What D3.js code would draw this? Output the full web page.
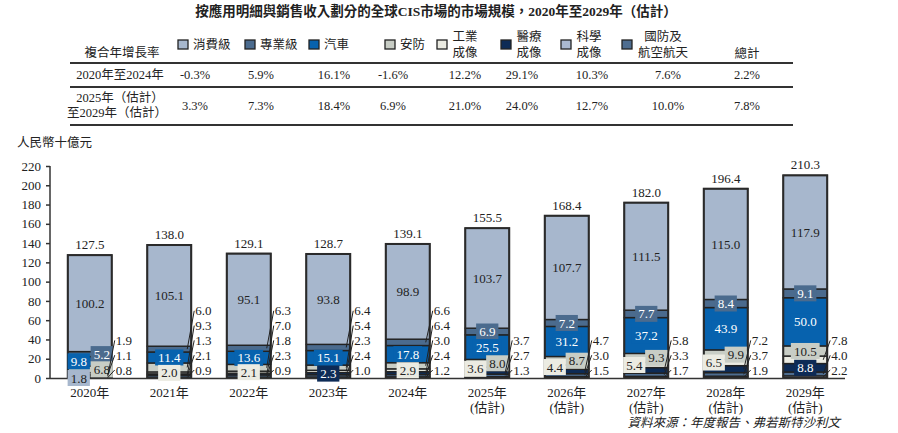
<!DOCTYPE html>
<html>
<head>
<meta charset="utf-8">
<script src="https://cdn.jsdelivr.net/npm/d3@7/dist/d3.min.js"></script>
<style>
body { margin: 0; background: #fff; }
text { font-family: "Liberation Serif", "Noto Sans CJK TC", serif; fill: #222; }
</style>
</head>
<body>
<script>
// ---- data ----
var years = ["2020年", "2021年", "2022年", "2023年", "2024年", "2025年", "2026年", "2027年", "2028年", "2029年"];
var estimated = [false, false, false, false, false, true, true, true, true, true];

var consumer = [100.2, 105.1, 95.1, 93.8, 98.9, 103.7, 107.7, 111.5, 115.0, 117.9];
var professional = [5.2, 6.0, 6.3, 6.4, 6.6, 6.9, 7.2, 7.7, 8.4, 9.1];
var automotive = [9.8, 11.4, 13.6, 15.1, 17.8, 25.5, 31.2, 37.2, 43.9, 50.0];
var security = [6.8, 9.3, 7.0, 5.4, 6.4, 8.0, 8.7, 9.3, 9.9, 10.5];
var industrial = [1.8, 2.0, 2.1, 2.3, 2.9, 3.6, 4.4, 5.4, 6.5, 7.8];
var medical = [1.1, 1.3, 1.8, 2.3, 3.0, 3.7, 4.7, 5.8, 7.2, 8.8];
var scientific = [0.8, 0.9, 0.9, 1.0, 1.2, 1.3, 1.5, 1.7, 1.9, 2.2];
var defence = [1.9, 2.1, 2.3, 2.4, 2.4, 2.7, 3.0, 3.3, 3.7, 4.0];
var totals = [127.5, 138.0, 129.1, 128.7, 139.1, 155.5, 168.4, 182.0, 196.4, 210.3];

// stacked bottom -> top
var stackKeys = ["科學成像", "國防及航空航天", "醫療成像", "工業成像", "安防", "汽車", "專業級", "消費級"];
var seriesValues = {
  "科學成像": scientific, "國防及航空航天": defence, "醫療成像": medical, "工業成像": industrial,
  "安防": security, "汽車": automotive, "專業級": professional, "消費級": consumer
};
var legendKeys = ["消費級", "專業級", "汽車", "安防", "工業成像", "醫療成像", "科學成像", "國防及航空航天"];
var cagr2024 = ["-0.3%", "5.9%", "16.1%", "-1.6%", "12.2%", "29.1%", "10.3%", "7.6%", "2.2%"];
var cagr2029 = ["3.3%", "7.3%", "18.4%", "6.9%", "21.0%", "24.0%", "12.7%", "10.0%", "7.8%"];

// ---- styles / layout ----
var colors = {
  "消費級": "#a7b7cd", "專業級": "#4b6b8e", "汽車": "#0762ae", "安防": "#c8cdc5",
  "工業成像": "#ebebe2", "醫療成像": "#0d2b56", "科學成像": "#aab9d0", "國防及航空航天": "#4e6d90"
};
var whiteText = { "專業級": 1, "汽車": 1, "醫療成像": 1, "國防及航空航天": 1 };
var legendLabel = {
  "工業成像": ["工業", "成像"], "醫療成像": ["醫療", "成像"], "科學成像": ["科學", "成像"],
  "國防及航空航天": ["國防及", "航空航天"]
};

// inside labels per year: [key, dx, fillOverride, atBase]
var inside = [
  [["消費級", 0], ["專業級", 12], ["汽車", -11], ["安防", 12], ["工業成像", -11, "#a7b7cd", true]],
  [["消費級", 0], ["汽車", 0], ["工業成像", 0]],
  [["消費級", 0], ["汽車", 0], ["工業成像", 0]],
  [["消費級", 0], ["汽車", 0], ["醫療成像", 0]],
  [["消費級", 0], ["汽車", 0], ["工業成像", 0]],
  [["消費級", 0], ["專業級", 0], ["汽車", 0], ["安防", 10], ["工業成像", -12]],
  [["消費級", 0], ["專業級", 0], ["汽車", 0], ["安防", 10], ["工業成像", -12]],
  [["消費級", 0], ["專業級", 0], ["汽車", 0], ["安防", 10], ["工業成像", -12]],
  [["消費級", 0], ["專業級", 0], ["汽車", 0], ["安防", 10], ["工業成像", -12]],
  [["消費級", 0], ["專業級", 0], ["汽車", 0], ["安防", 0], ["醫療成像", 0]]
];
// right-hand labels, top -> bottom
var outside = [
  ["國防及航空航天", "醫療成像", "科學成像"],
  ["專業級", "安防", "醫療成像", "國防及航空航天", "科學成像"],
  ["專業級", "安防", "醫療成像", "國防及航空航天", "科學成像"],
  ["專業級", "安防", "工業成像", "國防及航空航天", "科學成像"],
  ["專業級", "安防", "醫療成像", "國防及航空航天", "科學成像"],
  ["醫療成像", "國防及航空航天", "科學成像"],
  ["醫療成像", "國防及航空航天", "科學成像"],
  ["醫療成像", "國防及航空航天", "科學成像"],
  ["醫療成像", "國防及航空航天", "科學成像"],
  ["工業成像", "國防及航空航天", "科學成像"]
];

var W = 898, H = 433;
var svg = d3.select("body").append("svg").attr("width", W).attr("height", H);

// title
svg.append("text").attr("x", 436).attr("y", 16).attr("text-anchor", "middle")
  .style("font-size", "13.5px").style("font-weight", "bold")
  .text("按應用明細與銷售收入劃分的全球CIS市場的市場規模，2020年至2029年（估計）");

// ---- table ----
var colX = [195, 261, 334, 393, 465, 522, 592, 668, 747];
var swatchX = [178, 245, 309, 385, 437, 501, 561, 622];
var table = svg.append("g").style("font-size", "12.5px");

table.append("text").attr("x", 122).attr("y", 57).attr("text-anchor", "middle").text("複合年增長率");
legendKeys.forEach(function(k, i) {
  table.append("rect").attr("x", swatchX[i]).attr("y", 40).attr("width", 10).attr("height", 9)
    .attr("fill", colors[k]).attr("stroke", "#222").attr("stroke-width", 1.3);
  var lines = legendLabel[k] || [k];
  var tx = swatchX[i] + 15;
  if (lines.length === 1) {
    table.append("text").attr("x", tx).attr("y", 49).text(lines[0]);
  } else {
    var cx = k === "國防及航空航天" ? 663 : tx + 13;
    table.append("text").attr("x", cx).attr("y", 41).attr("text-anchor", "middle").text(lines[0]);
    table.append("text").attr("x", cx).attr("y", 57).attr("text-anchor", "middle").text(lines[1]);
  }
});
table.append("text").attr("x", 747).attr("y", 58).attr("text-anchor", "middle").text("總計");

[63, 87, 125].forEach(function(y) {
  table.append("line").attr("x1", 70).attr("x2", 793).attr("y1", y).attr("y2", y)
    .attr("stroke", "#333").attr("stroke-width", 1.8);
});
table.append("text").attr("x", 120).attr("y", 79).attr("text-anchor", "middle").text("2020年至2024年");
table.append("text").attr("x", 120).attr("y", 102).attr("text-anchor", "middle").text("2025年（估計）");
table.append("text").attr("x", 117).attr("y", 117).attr("text-anchor", "middle").text("至2029年（估計）");
colX.forEach(function(x, i) {
  table.append("text").attr("x", x).attr("y", 79).attr("text-anchor", "middle").text(cagr2024[i]);
  table.append("text").attr("x", x).attr("y", 110).attr("text-anchor", "middle").text(cagr2029[i]);
});

// ---- chart ----
var x = d3.scaleBand().domain(years).range([50, 845]).paddingInner(0.447).paddingOuter(0.2235);
var y = d3.scaleLinear().domain([0, 220]).range([378, 166]);

svg.append("text").attr("x", 17).attr("y", 147).style("font-size", "12.5px").text("人民幣十億元");

var yAxis = svg.append("g").attr("transform", "translate(50,0)")
  .call(d3.axisLeft(y).tickValues(d3.range(0, 221, 20)).tickSize(4).tickPadding(5));
yAxis.selectAll("text").style("font-size", "13px").attr("fill", "#222");
yAxis.selectAll("line,path").attr("stroke", "#333").attr("stroke-width", 1.5);
yAxis.select(".domain").attr("d", "M0,166V378");

var table2 = years.map(function(yr, i) {
  var row = { year: yr };
  stackKeys.forEach(function(k) { row[k] = seriesValues[k][i]; });
  return row;
});
var stacked = d3.stack().keys(stackKeys)(table2);
var segByKey = {};
stacked.forEach(function(s) { segByKey[s.key] = s; });

var layers = svg.append("g").selectAll("g").data(stacked).join("g").attr("fill", function(d) { return colors[d.key]; });
layers.selectAll("rect").data(function(d) { return d; }).join("rect")
  .attr("x", function(d) { return x(d.data.year); })
  .attr("width", x.bandwidth())
  .attr("y", function(d) { return y(d[1]); })
  .attr("height", function(d) { return y(d[0]) - y(d[1]); })
  .attr("stroke", "#222").attr("stroke-width", 1.4);

// bar outline
svg.append("g").selectAll("rect").data(years).join("rect")
  .attr("x", function(d) { return x(d); })
  .attr("width", x.bandwidth())
  .attr("y", function(d, i) { return y(totals[i]); })
  .attr("height", function(d, i) { return y(0) - y(totals[i]); })
  .attr("fill", "none").attr("stroke", "#2a2a2a").attr("stroke-width", 2);

// baseline
svg.append("line").attr("x1", 50).attr("x2", 845).attr("y1", 378.5).attr("y2", 378.5)
  .attr("stroke", "#333").attr("stroke-width", 1.5);

// totals
svg.append("g").selectAll("text").data(totals).join("text")
  .attr("x", function(d, i) { return x(years[i]) + x.bandwidth() / 2; })
  .attr("y", function(d) { return y(d) - 6; })
  .attr("text-anchor", "middle").style("font-size", "13px")
  .text(function(d) { return d.toFixed(1); });

var labelG = svg.append("g").style("font-size", "13px");

// inside labels
inside.forEach(function(list, i) {
  var cx = x(years[i]) + x.bandwidth() / 2;
  list.forEach(function(spec) {
    var k = spec[0], seg = segByKey[k][i];
    var cy = spec[3] ? y(0) : (y(seg[0]) + y(seg[1])) / 2;
    var g = labelG.append("g").attr("transform", "translate(" + (cx + spec[1]) + "," + cy + ")");
    var t = g.append("text").attr("text-anchor", "middle").attr("dy", "0.35em")
      .attr("fill", spec[2] ? "#222" : (whiteText[k] ? "#fff" : "#222"))
      .style("fill", spec[2] ? "#222" : (whiteText[k] ? "#fff" : "#222"))
      .text(seriesValues[k][i].toFixed(1));
    var w = t.node().getComputedTextLength();
    if (k !== "消費級") {
      g.insert("rect", "text").attr("x", -w / 2 - 3).attr("y", -8).attr("width", w + 6).attr("height", 16)
        .attr("fill", spec[2] || colors[k]);
    }
  });
});

// outside labels with leader lines
outside.forEach(function(list, i) {
  var right = x(years[i]) + x.bandwidth();
  var n = list.length;
  list.forEach(function(k, j) {
    var ly = 370 - 14.8 * (n - 1 - j);
    var seg = segByKey[k][i];
    var sy = (y(seg[0]) + y(seg[1])) / 2;
    labelG.append("line").attr("x1", right - 4).attr("y1", sy).attr("x2", right + 3).attr("y2", ly)
      .attr("stroke", "#222").attr("stroke-width", 1);
    labelG.append("text").attr("x", right + 4).attr("y", ly).attr("dy", "0.35em")
      .text(seriesValues[k][i].toFixed(1));
  });
});

// x labels
var xl = svg.append("g").style("font-size", "13px");
years.forEach(function(yr, i) {
  var cx = x(yr) + x.bandwidth() / 2;
  xl.append("text").attr("x", cx).attr("y", 397).attr("text-anchor", "middle").text(yr);
  if (estimated[i]) xl.append("text").attr("x", cx).attr("y", 412).attr("text-anchor", "middle").text("(估計)");
});

svg.append("text").attr("x", 840).attr("y", 427).attr("text-anchor", "end")
  .style("font-size", "12.5px").style("font-style", "italic")
  .text("資料來源：年度報告、弗若斯特沙利文");
</script>
</body>
</html>
